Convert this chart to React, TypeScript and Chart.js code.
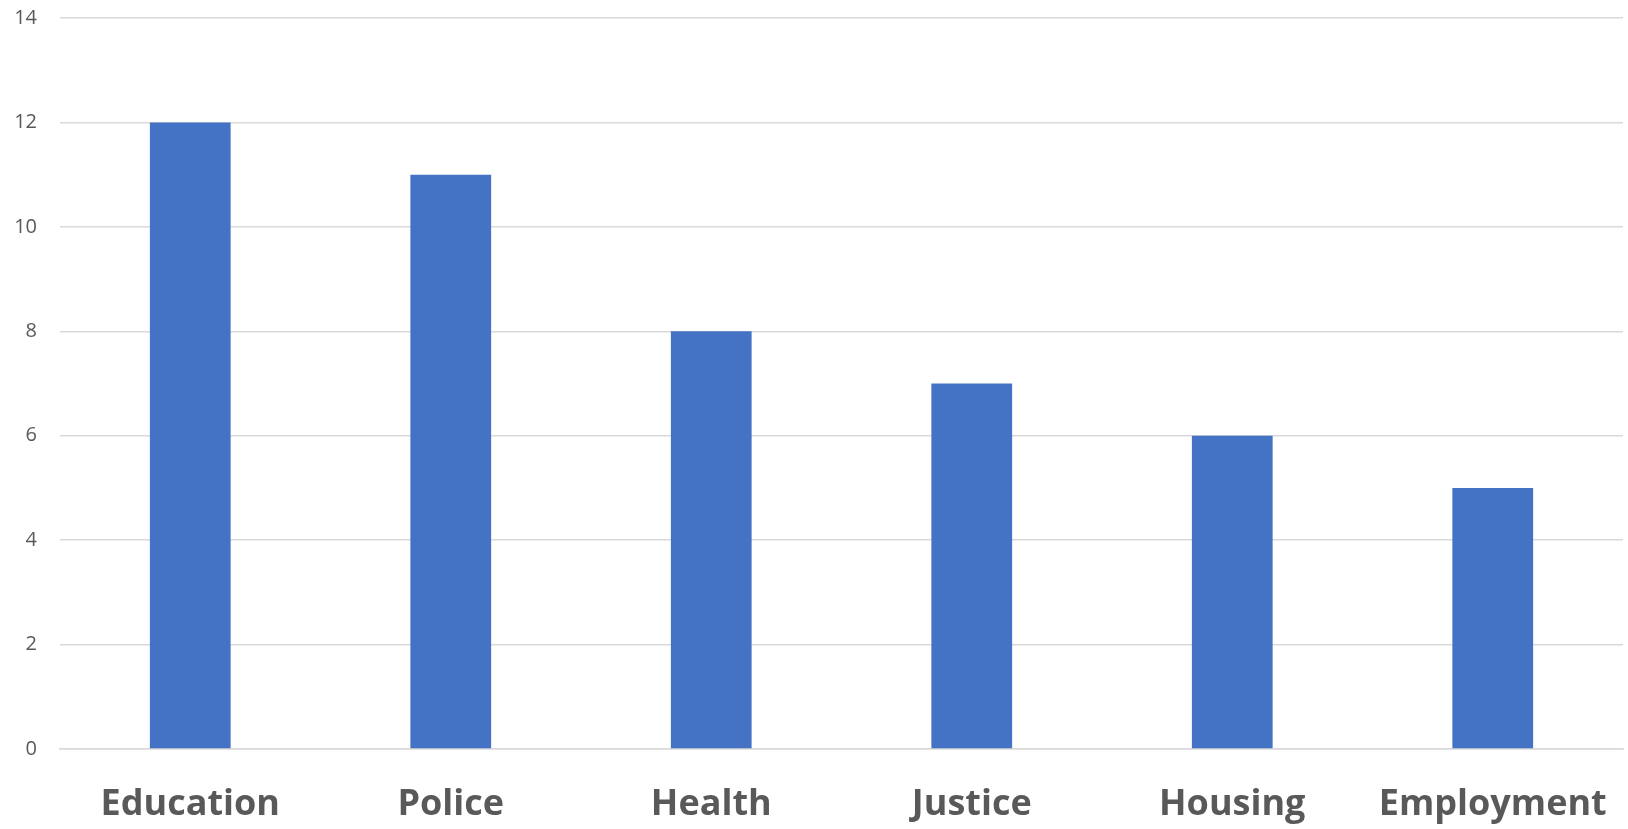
import React, { useEffect, useRef } from "react";
import { Chart, registerables } from "chart.js";

Chart.register(...registerables);

const categories = ["Education", "Police", "Health", "Justice", "Housing", "Employment"];
const values = [12, 11, 8, 7, 6, 5];
const yMin = 0;
const yMax = 14;
const yStep = 2;

export default function App() {
  const ref = useRef<HTMLCanvasElement>(null);
  useEffect(() => {
    if (!ref.current) return;
    const chart = new Chart(ref.current, {
      type: "bar",
      data: {
        labels: categories,
        datasets: [
          {
            data: values,
            backgroundColor: "#4472c4",
            borderWidth: 0,
            categoryPercentage: 1,
            barPercentage: 0.31,
          },
        ],
      },
      options: {
        animation: false,
        responsive: false,
        maintainAspectRatio: false,
        layout: { padding: { left: 0, right: 5, top: 18, bottom: 0 } },
        plugins: { legend: { display: false }, tooltip: { enabled: false } },
        scales: {
          x: {
            grid: { display: false, drawTicks: false },
            border: { display: true, color: "#d9d9d9", width: 1.5 },
            ticks: {
              color: "#595959",
              padding: 34,
              font: { family: "'Open Sans', 'Noto Sans', sans-serif", size: 36, weight: "bold" },
              maxRotation: 0,
              autoSkip: false,
            },
            afterFit: (s: any) => {
              s.height = 80;
              s.paddingLeft = 0;
              s.paddingRight = 0;
            },
          },
          y: {
            min: yMin,
            max: yMax,
            ticks: {
              stepSize: yStep,
              color: "#595959",
              padding: 23,
              font: { family: "'Open Sans', 'Noto Sans', sans-serif", size: 20 },
            },
            grid: { color: "#d9d9d9", lineWidth: 1.5, drawTicks: false },
            border: { display: false },
            afterFit: (s: any) => {
              s.width = 60;
              s.paddingTop = 0;
              s.paddingBottom = 0;
            },
          },
        },
      },
    });
    return () => chart.destroy();
  }, []);
  return (
    <div style={{ position: "fixed", left: 0, top: 0, width: 1628, height: 829, background: "#fff" }}>
      <canvas ref={ref} width={1628} height={829} style={{ width: 1628, height: 829 }} />
    </div>
  );
}
